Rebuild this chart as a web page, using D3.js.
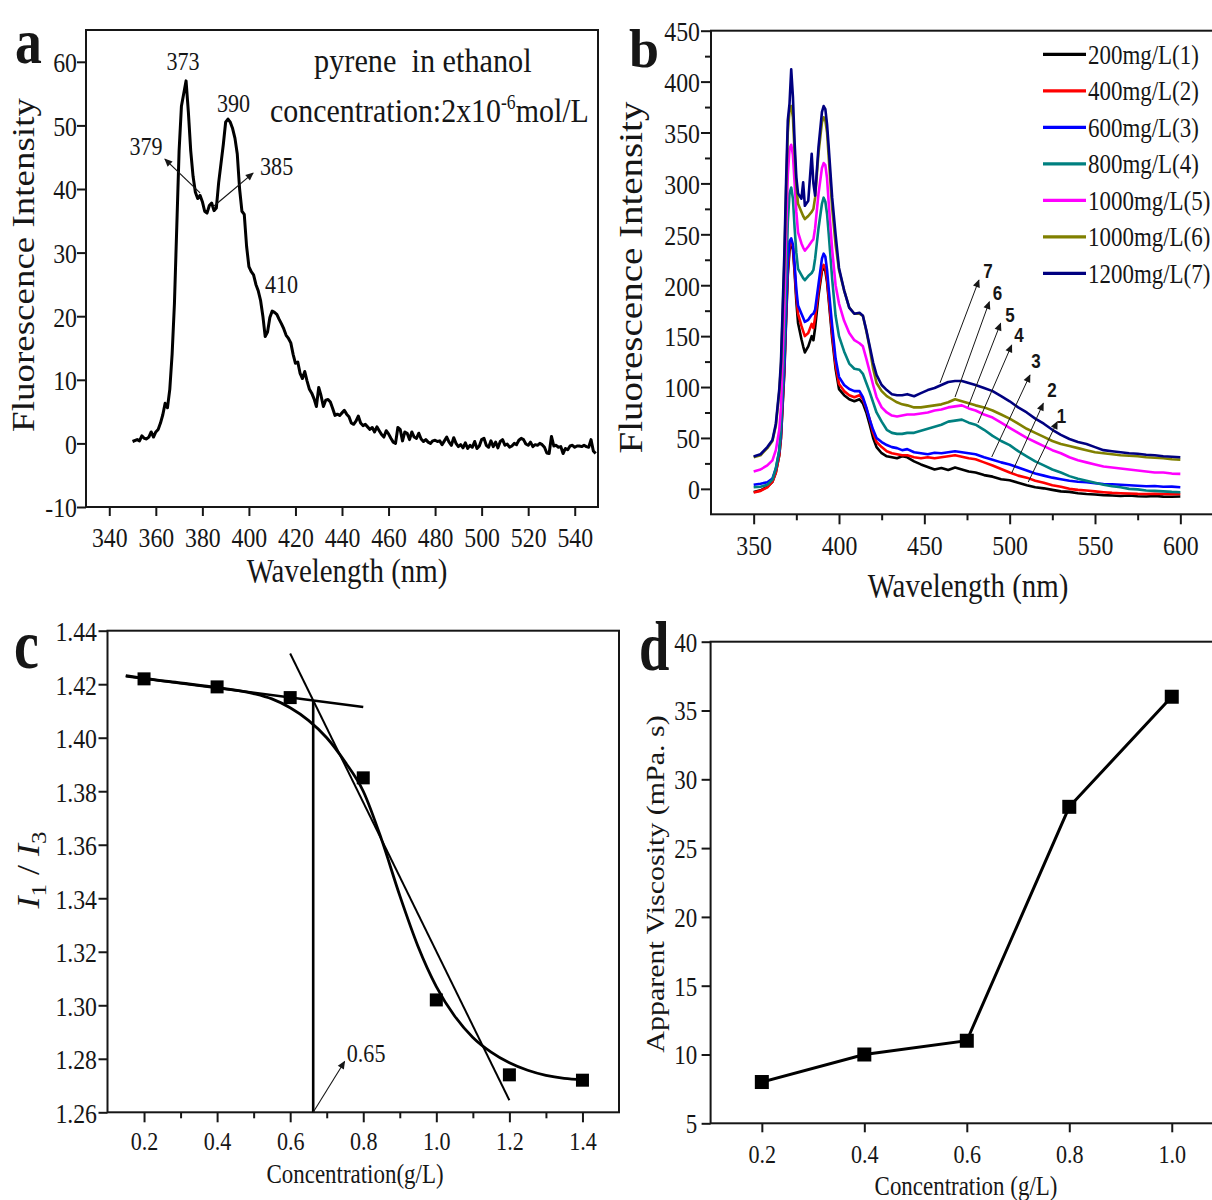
<!DOCTYPE html>
<html lang="en">
<head>
<meta charset="UTF-8">
<script src="https://cdn.jsdelivr.net/npm/d3@7"></script>
<title>Pyrene fluorescence and viscosity</title>
<style>
  body { margin: 0; background: #fff; }
  svg { display: block; }
</style>
</head>
<body>
<div id="chart"></div>
<script>
// ---------------- data ----------------

// (a) pyrene in ethanol: [wavelength nm, intensity]
const specA = [[350,0.3],[352,0.6],[353,0.4],[354,1.2],[355,0.8],[356,0.7],[357,1.0],[358,1.8],[359,1.0],[360,1.8],
  [361,2.2],[362,3.2],[363,4.5],[364,6.3],[365,5.6],[366,8.5],[367,14],[368,22],[369,34],[370,46],
  [371,53],[372,55],[373,57],[374,52],[375,46],[376,42],[377,39.5],[378,38.5],[379,39],[380,38],
  [381,36.5],[382,36.2],[383,37.4],[384,37.8],[385,36.6],[386,37],[387,41],[388,44],[389,47],[390,50.5],
  [391,51],[392,50.5],[393,49.5],[394,48],[395,45.5],[396,40],[397,36.5],[398,36],[399,31],[400,27.8],
  [401,27],[402,26.5],[403,25],[404,24],[405,22.5],[406,20],[407,16.8],[408,17.5],[409,19.8],[410,20.8],
  [411,20.6],[412,20.3],[413,19.5],[414,18.8],[415,18],[416,17],[417,16.5],[418,15.8],[419,14],[420,12.6],
  [421,12.8],[422,11],[423,10.2],[424,11.3],[425,9.8],[426,8.5],[427,7.9],[428,7],[429,5.8],[430,8.8],
  [431,7.5],[432,5.8],[433,6.8],[434,6.9],[435,6.5],[436,5.5],[437,4.4],[438,4.6],[439,4.4],[440,4.8],
  [441,5.2],[442,4.6],[443,4.2],[444,3.2],[445,3],[446,3.5],[447,4.3],[448,3.2],[449,2.8],[450,3],
  [451,2.6],[452,2.2],[453,2.5],[454,1.8],[455,2.6],[456,2.0],[457,1.4],[458,1.0],[459,2.0],[460,1.5],
  [461,0.8],[462,0.2],[463,0],[464,2.5],[465,2.2],[466,0.4],[467,1.8],[468,1.6],[469,0.6],[470,1.8],
  [471,1.0],[472,0.8],[473,1.6],[474,0.7],[475,0.3],[476,0.6],[477,0.2],[478,0],[479,0.4],[480,0.5],
  [481,0.3],[482,0.4],[483,-0.2],[484,0.4],[485,1.0],[486,0.2],[487,-0.3],[488,0.9],[489,0],[490,-0.5],
  [491,-0.2],[492,-0.7],[493,0.1],[494,-0.8],[495,-0.3],[496,-0.6],[497,0.3],[498,-0.8],[499,-0.4],[500,0.6],
  [501,0.8],[502,-0.3],[503,-0.6],[504,0.4],[505,-0.5],[506,0.2],[507,-0.7],[508,0.3],[509,0.6],[510,-0.3],
  [511,-0.1],[512,-0.6],[513,-0.4],[514,0],[515,-0.2],[516,0.5],[517,0.8],[518,0.6],[519,-0.1],[520,-0.3],
  [521,0.2],[522,-0.5],[523,-0.2],[524,-0.3],[525,0],[526,-0.2],[527,-0.6],[528,-1.5],[529,-1.6],[530,1.1],
  [531,-0.4],[532,-0.3],[533,-0.6],[534,-0.5],[535,-1.6],[536,-0.8],[537,-1.0],[538,-0.4],[539,-0.3],[540,-0.6],
  [541,-0.4],[542,-0.4],[543,-0.5],[544,-0.3],[545,-0.5],[546,-0.6],[547,0.6],[548,-1.2],[549,-1.6]];
const ticksAx = [340,360,380,400,420,440,460,480,500,520,540];
const ticksAy = [-10,0,10,20,30,40,50,60];

// (b) spectra at seven concentrations, shared wavelength grid
const specB_nm = [350,354,358,361,363,365,366,368,369,370,371,372,373,374,375,376,378,379,380,382,384,385,386,388,390,
  391,392,393,394,396,398,400,403,406,409,412,414,416,418,420,422,425,428,431,434,437,440,444,448,452,456,460,464,468,
  472,476,480,485,490,495,500,505,510,515,520,525,530,535,540,545,550,555,560,565,570,575,580,585,590,595,600];
const specB_1 = [-3,-1.5,2,7,16,33,50,115,165,210,234,240,236,212,184,163,147,140,134,140,150,146,158,190,214,
  217,214,203,185,148,118,98,92,88,86,88,84,75,63,50,41,35,32,31,30,32,31,27,24,21.5,19,20.5,18.5,21,
  19,17,16,13.5,12,9.5,8.5,6,3.5,1.5,0.5,-1,-2.5,-3,-4.3,-5,-5.5,-6.2,-6.6,-7,-6.6,-7.2,-7.5,-7,-7.6,-7.8,-7.5];
const specB_2 = [-3.5,-2,1.5,7,16,33,50,118,168,214,238,243,238,215,190,172,160,155,150,153,162,158,168,195,216,
  220,217,206,188,152,122,103,96,92,90,92,88,79,68,55,46,41,37,35,34,33,33,31,30,31,30,31,32,33,
  31.5,30,29,26,23,19.5,16,13,11,8,6,3.5,2,0,-1,-1.6,-2.5,-3.3,-4,-4.3,-4.5,-4.9,-5,-4.8,-5,-5.2,-5];
const specB_3 = [4,5,6.5,10,20,37,55,122,172,222,243,246,240,220,196,180,172,168,164,166,171,172,176,201,226,
  231,228,215,196,160,128,110,102,98,96,96,90,80,68,58,50,46,43,41,40,38,39,36,35,34,35.5,35,36,37,
  36,35,34,31,28.5,26,24,21,18,15,13,11,9.5,8,7,6.5,5.5,4.8,4.5,4,3.5,3,2.5,2.8,2,2.2,1.6];
const specB_4 = [1.5,2,4,9,20,38,60,140,200,262,290,296,285,256,232,216,210,207,205,209,212,215,226,256,280,
  286,282,270,250,206,170,150,135,123,118,117,113,104,95,85,75,66,58,55,54,54,55,55,57,59,61,63,66,67,
  68,65,63,58,52,47,43,37,32,27,23,19,16,12.5,10,8,6,4,2.5,1.5,0,-0.5,-1.6,-2,-2.5,-3,-3.3];
const specB_5 = [17,19,23,28,38,58,80,180,250,308,334,338,328,300,272,252,241,237,234,238,243,245,256,290,315,
  320,318,305,280,235,200,182,165,153,146,143,140,128,115,102,90,80,75,72,71,72,73,73,74,75,77,78,80,81,
  82,79,77,73,70,65,60,55,50,46,42,38,35,31,28,26,24,22,21,20,19,18,17,16,16,15,14.7];
const specB_6 = [31,33,40,47,62,95,120,222,292,350,372,376,365,330,298,280,272,268,265,268,272,275,286,330,360,
  365,362,350,325,276,240,215,195,178,172,172,170,155,138,118,104,96,91,88,85,83,82,80,80,81,82,83,85,88,
  86,84,82,80,77,73,69,64,59,55,51,47,44,42,40,38,36,35,34,33,32.5,32,31,30.5,30,29,28.7];
const specB_7 = [31.7,34,41,48,64,98,125,232,302,362,378,412,385,340,306,290,285,301,278,283,329,300,288,336,370,
  376,373,358,335,286,250,217,195,178,172,173,170,156,140,124,112,102,97,93,92,92,93,91,94,97,99,102,105,106,
  106,104,102,99,96,91,86,80,75,69,64,58,53,49,46,44,41,38,37,36,35,34.5,33.5,33,32,31.5,31];
const legendB = ["200mg/L(1)","400mg/L(2)","600mg/L(3)","800mg/L(4)","1000mg/L(5)","1000mg/L(6)","1200mg/L(7)"];
const ticksBx = [350,400,450,500,550,600];
const minorBx = [375,425,475,525,575];
const ticksBy = [0,50,100,150,200,250,300,350,400,450];
const minorBy = [25,75,125,175,225,275,325,375,425];

// (c) I1/I3 ratio vs concentration
const concC = [0.2,0.4,0.6,0.8,1.0,1.2,1.4];
const ratioC = [1.422,1.419,1.415,1.385,1.302,1.274,1.272];
const fitC = [[0.15,1.4232],[0.2,1.4222],[0.3,1.4205],[0.4,1.4188],[0.5,1.4165],[0.55,1.4145],[0.6,1.4112],
  [0.65,1.4065],[0.7,1.400],[0.75,1.391],[0.8,1.380],[0.85,1.362],[0.9,1.341],[0.95,1.322],[1.0,1.307],
  [1.05,1.296],[1.1,1.288],[1.15,1.2825],[1.2,1.2785],[1.25,1.2757],[1.3,1.2738],[1.35,1.2727],[1.4,1.2722]];
const flatLineC = [[0.15,1.423],[0.8,1.4115]];
const steepLineC = [[0.6,1.4315],[1.2,1.2645]];
const cmcC = 0.663;
const ticksCx = [0.2,0.4,0.6,0.8,1.0,1.2,1.4];
const minorCx = [0.3,0.5,0.7,0.9,1.1,1.3];
const ticksCy = [1.26,1.28,1.30,1.32,1.34,1.36,1.38,1.40,1.42,1.44];

// (d) apparent viscosity vs concentration
const concD = [0.2,0.4,0.6,0.8,1.0];
const viscD = [8,10,11,28,36];
const ticksDx = [0.2,0.4,0.6,0.8,1.0];
const ticksDy = [5,10,15,20,25,30,35,40];

// ---------------- drawing ----------------
const SX = 0.85;   // the figure is a bit squeezed horizontally
const SERIF = "'Liberation Serif','Times New Roman',serif";
const SANS = "'Liberation Sans',Arial,sans-serif";
const INK = "#161616";
const colorsB = ["#000000","#ff0000","#0000ff","#008080","#ff00ff","#808000","#000080"];
const plain = d => String(d);   // keeps the ascii hyphen for negatives

const svg = d3.select("#chart").append("svg")
    .attr("width", 1212)
    .attr("height", 1200);
svg.append("rect").attr("width", 1212).attr("height", 1200).attr("fill", "#fff");

svg.append("defs").append("marker")
    .attr("id", "head")
    .attr("viewBox", "0 0 10 10")
    .attr("refX", 9).attr("refY", 5)
    .attr("markerUnits", "userSpaceOnUse")
    .attr("markerWidth", 10).attr("markerHeight", 8)
    .attr("orient", "auto")
  .append("path")
    .attr("d", "M0,0.5L10,5L0,9.5Z")
    .attr("fill", INK);

function label(str, x, y, size, o = {}) {
  const t = svg.append("text")
      .attr("transform", "translate(" + x + "," + y + ") scale(" + (o.sx || SX) + ",1)")
      .attr("font-family", o.family || SERIF)
      .attr("font-size", size)
      .attr("font-weight", o.weight || "normal")
      .attr("text-anchor", o.anchor || "start")
      .attr("fill", INK)
      .style("white-space", "pre");
  if (str) t.text(str);
  return t;
}

function vlabel(str, x, y, size) {
  const t = svg.append("text")
      .attr("transform", "translate(" + x + "," + y + ") rotate(-90) scale(1," + SX + ")")
      .attr("font-family", SERIF)
      .attr("font-size", size)
      .attr("text-anchor", "middle")
      .attr("fill", INK)
      .style("white-space", "pre");
  if (str) t.text(str);
  return t;
}

function frame(x, y) {
  const [x0, x1] = x.range(), [y0, y1] = y.range();
  svg.append("rect")
      .attr("x", x0).attr("y", y1)
      .attr("width", x1 - x0).attr("height", y0 - y1)
      .attr("fill", "none").attr("stroke", INK).attr("stroke-width", 2);
}

function bottomAxis(x, y, ticks, fmt, o) {
  const g = svg.append("g")
      .attr("transform", "translate(0," + y.range()[0] + ")")
      .call(d3.axisBottom(x).tickValues(ticks).tickFormat(fmt).tickSize(o.size).tickSizeOuter(0));
  g.select(".domain").remove();
  g.selectAll("line").attr("stroke", INK).attr("stroke-width", 2);
  g.selectAll("text")
      .attr("font-family", SERIF).attr("font-size", o.font).attr("fill", INK)
      .attr("y", o.gap).attr("dy", 0)
      .attr("transform", "scale(" + SX + ",1)");
  if (o.minor) {
    const m = svg.append("g")
        .attr("transform", "translate(0," + y.range()[0] + ")")
        .call(d3.axisBottom(x).tickValues(o.minor).tickFormat("").tickSize(o.minorSize).tickSizeOuter(0));
    m.select(".domain").remove();
    m.selectAll("line").attr("stroke", INK).attr("stroke-width", 2);
  }
}

function leftAxis(x, y, ticks, fmt, o) {
  const g = svg.append("g")
      .attr("transform", "translate(" + x.range()[0] + ",0)")
      .call(d3.axisLeft(y).tickValues(ticks).tickFormat(fmt).tickSize(o.size).tickSizeOuter(0));
  g.select(".domain").remove();
  g.selectAll("line").attr("stroke", INK).attr("stroke-width", 2);
  g.selectAll("text")
      .attr("font-family", SERIF).attr("font-size", o.font).attr("fill", INK)
      .attr("x", -o.gap / SX).attr("dy", "0.35em")
      .attr("transform", "scale(" + SX + ",1)");
  if (o.minor) {
    const m = svg.append("g")
        .attr("transform", "translate(" + x.range()[0] + ",0)")
        .call(d3.axisLeft(y).tickValues(o.minor).tickFormat("").tickSize(o.minorSize).tickSizeOuter(0));
    m.select(".domain").remove();
    m.selectAll("line").attr("stroke", INK).attr("stroke-width", 2);
  }
}

function arrow(x1, y1, x2, y2, w) {
  svg.append("line")
      .attr("x1", x1).attr("y1", y1).attr("x2", x2).attr("y2", y2)
      .attr("stroke", INK).attr("stroke-width", w || 1.2)
      .attr("marker-end", "url(#head)");
}

// ===== panel a =====
const xA = d3.scaleLinear().domain([330, 550]).range([86, 598]);
const yA = d3.scaleLinear().domain([-10, 65]).range([507, 30]);

frame(xA, yA);
bottomAxis(xA, yA, ticksAx, plain, {size: 9, gap: 40, font: 28});
leftAxis(xA, yA, ticksAy, plain, {size: 9, gap: 9, font: 28});

svg.append("path")
    .datum(specA)
    .attr("fill", "none")
    .attr("stroke", "#000")
    .attr("stroke-width", 3)
    .attr("stroke-linejoin", "round")
    .attr("d", d3.line().x(d => xA(d[0])).y(d => yA(d[1])));

// peak annotations
label("373", xA(371.7), yA(58.7), 26, {anchor: "middle"});
label("390", xA(393.4), yA(52.1), 26, {anchor: "middle"});
label("410", xA(414.0), yA(23.6), 26, {anchor: "middle"});
label("379", xA(355.8), yA(45.3), 26, {anchor: "middle"});
label("385", xA(411.9), yA(42.2), 26, {anchor: "middle"});
arrow(xA(379.0), yA(39.4), xA(363.9), yA(44.7));
arrow(xA(384.6), yA(37.2), xA(401.8), yA(42.5));

label("pyrene  in ethanol", xA(428.0), yA(58.4), 34, {sx: 0.89});
const conc = label(null, xA(409.1), yA(50.6), 34, {sx: 0.88});
conc.append("tspan").text("concentration:2x10");
conc.append("tspan").attr("font-size", 20).attr("dy", -13).text("-6");
conc.append("tspan").attr("dy", 13).text("mol/L");

label("a", 15, 63, 64, {weight: "bold", sx: 0.84});
vlabel("Fluorescence Intensity", 34, 265, 37);
label("Wavelength (nm)", 347, 582, 34, {anchor: "middle"});

// ===== panel b =====
const xB = d3.scaleLinear().domain([325, 625]).range([711, 1223]);
const yB = d3.scaleLinear().domain([-25, 450]).range([514.3, 30.7]);

frame(xB, yB);
bottomAxis(xB, yB, ticksBx, plain, {size: 10, gap: 41, font: 28, minor: minorBx, minorSize: 6});
leftAxis(xB, yB, ticksBy, plain, {size: 10, gap: 11, font: 28, minor: minorBy, minorSize: 6});

const seriesB = [specB_1, specB_2, specB_3, specB_4, specB_5, specB_6, specB_7];
const lineB = d3.line().x((d, i) => xB(specB_nm[i])).y(d => yB(d));
svg.append("g").selectAll("path")
    .data(seriesB)
    .enter().append("path")
    .attr("fill", "none")
    .attr("stroke", (d, i) => colorsB[i])
    .attr("stroke-width", 2.6)
    .attr("stroke-linejoin", "round")
    .attr("d", lineB);

// legend
const legB = svg.append("g").selectAll("g")
    .data(legendB)
    .enter().append("g")
    .attr("transform", (d, i) => "translate(1043," + (54.3 + i * 36.5) + ")");
legB.append("line")
    .attr("x1", 0).attr("x2", 43)
    .attr("stroke", (d, i) => colorsB[i])
    .attr("stroke-width", 3.2);
legB.append("text")
    .attr("transform", "translate(45,9.5) scale(" + SX + ",1)")
    .attr("font-family", SERIF).attr("font-size", 27).attr("fill", INK)
    .text(d => d);

// numbered arrows: tail on curve -> tip, label near tip
const arrowsB = [
  ["7", 459.2, 104.1, 482.0, 205.1, 487.3, 207.1],
  ["6", 468.0, 90.2, 488.1, 183.8, 492.9, 185.5],
  ["5", 475.6, 80.4, 494.7, 162.6, 500.2, 163.9],
  ["4", 481.4, 64.7, 501.2, 141.3, 505.5, 144.4],
  ["3", 489.5, 31.3, 511.9, 111.8, 515.4, 118.7],
  ["2", 501.2, 15.6, 519.7, 84.0, 524.8, 90.2],
  ["1", 510.9, 6.7, 527.9, 66.0, 530.4, 64.7]
];
arrowsB.forEach(a => {
  arrow(xB(a[1]), yB(a[2]), xB(a[3]), yB(a[4]), 1);
  label(a[0], xB(a[5]), yB(a[6]), 20, {family: SANS, weight: "bold", anchor: "middle"});
});

label("b", 629, 66.7, 54, {weight: "bold", sx: 1});
vlabel("Fluorescence Intensity", 642, 277.5, 39);
label("Wavelength (nm)", 968, 597, 34, {anchor: "middle"});

// ===== panel c =====
const xC = d3.scaleLinear().domain([0.1, 1.5]).range([107.5, 619]);
const yC = d3.scaleLinear().domain([1.26, 1.44]).range([1112.3, 630.7]);

frame(xC, yC);
bottomAxis(xC, yC, ticksCx, d3.format(".1f"), {size: 10, gap: 38, font: 26, minor: minorCx, minorSize: 6});
leftAxis(xC, yC, ticksCy, d3.format(".2f"), {size: 9, gap: 10.5, font: 28});

const lineC = d3.line().x(d => xC(d[0])).y(d => yC(d[1]));
svg.append("path").datum(fitC)
    .attr("fill", "none").attr("stroke", "#000").attr("stroke-width", 2.8)
    .attr("d", lineC.curve(d3.curveMonotoneX));
svg.append("path").datum(flatLineC)
    .attr("fill", "none").attr("stroke", "#000").attr("stroke-width", 2.6)
    .attr("d", d3.line().x(d => xC(d[0])).y(d => yC(d[1])));
svg.append("path").datum(steepLineC)
    .attr("fill", "none").attr("stroke", "#000").attr("stroke-width", 2)
    .attr("d", d3.line().x(d => xC(d[0])).y(d => yC(d[1])));
svg.append("line")
    .attr("x1", xC(cmcC)).attr("x2", xC(cmcC))
    .attr("y1", yC(1.26)).attr("y2", yC(1.4139))
    .attr("stroke", "#000").attr("stroke-width", 2.6);
arrow(xC(cmcC), yC(1.26), xC(0.749), yC(1.279), 1.1);
label("0.65", xC(0.755), yC(1.2788), 26);

svg.append("g").selectAll("rect")
    .data(concC)
    .enter().append("rect")
    .attr("x", d => xC(d) - 6.5)
    .attr("y", (d, i) => yC(ratioC[i]) - 6.5)
    .attr("width", 13).attr("height", 13)
    .attr("fill", "#000");

label("c", 14, 668, 70, {weight: "bold", sx: 0.8});
const i13 = vlabel(null, 39, 870, 36);
i13.append("tspan").attr("font-style", "italic").text("I");
i13.append("tspan").attr("font-size", 25).attr("dy", 8).text("1");
i13.append("tspan").attr("dy", -8).text(" / ");
i13.append("tspan").attr("font-style", "italic").text("I");
i13.append("tspan").attr("font-size", 25).attr("dy", 8).text("3");
label("Concentration(g/L)", 355, 1183, 27, {anchor: "middle"});

// ===== panel d =====
const xD = d3.scaleLinear().domain([0.1, 1.1]).range([710.6, 1223]);
const yD = d3.scaleLinear().domain([5, 40]).range([1123.3, 641.7]);

frame(xD, yD);
bottomAxis(xD, yD, ticksDx, d3.format(".1f"), {size: 9, gap: 40, font: 26});
leftAxis(xD, yD, ticksDy, plain, {size: 9, gap: 13.5, font: 27});

svg.append("path")
    .datum(concD)
    .attr("fill", "none").attr("stroke", "#000").attr("stroke-width", 3)
    .attr("d", d3.line().x(d => xD(d)).y((d, i) => yD(viscD[i])));
svg.append("g").selectAll("rect")
    .data(concD)
    .enter().append("rect")
    .attr("x", d => xD(d) - 7)
    .attr("y", (d, i) => yD(viscD[i]) - 7)
    .attr("width", 14).attr("height", 14)
    .attr("fill", "#000");

label("d", 639, 670, 70, {weight: "bold", sx: 0.78});
vlabel("Apparent Viscosity (mPa. s)", 664, 884, 30);
label("Concentration (g/L)", 966, 1195, 27, {anchor: "middle"});
</script>
</body>
</html>
